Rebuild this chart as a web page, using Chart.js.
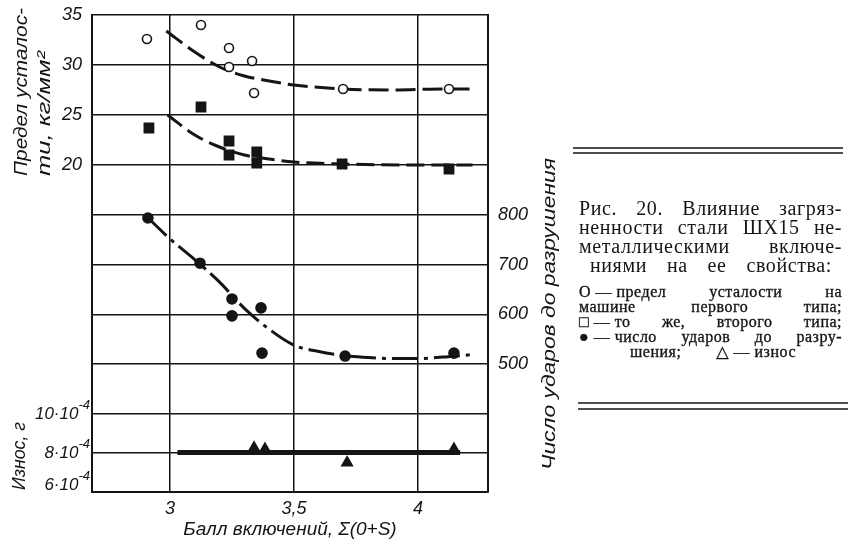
<!DOCTYPE html>
<html>
<head>
<meta charset="utf-8">
<script src="https://cdn.jsdelivr.net/npm/chart.js@4.4.0/dist/chart.umd.min.js"></script>
<style>
  html, body { margin: 0; padding: 0; background: #fff; }
</style>
</head>
<body>
<canvas id="myChart" width="850" height="545"></canvas>
<script>
// балл включений, Σ(O+S)
const xTicks = [3, 3.5, 4];
const fatTicks = [20, 25, 30, 35];
const blowsTicks = [500, 600, 700, 800];
const wearTicks = [6e-4, 8e-4, 10e-4];

// предел усталости, машина первого типа (кружки)
const fat1X = [2.907, 3.125, 3.238, 3.238, 3.331, 3.339, 3.698, 4.125];
const fat1Y = [32.6, 34.0, 31.7, 29.8, 30.4, 27.2, 27.6, 27.6];
// то же, второго типа (квадраты)
const fat2X = [2.915, 3.125, 3.238, 3.238, 3.35, 3.35, 3.694, 4.125];
const fat2Y = [23.7, 25.8, 22.4, 21.0, 21.3, 20.2, 20.1, 19.6];
// число ударов до разрушения
const blowsX = [2.911, 3.121, 3.25, 3.25, 3.367, 3.371, 3.706, 4.145];
const blowsY = [794, 703, 631, 597, 613, 522, 516, 522];
// износ, г
const wearX = [3.339, 3.383, 3.714, 4.145];
const wearY = [8.26e-4, 8.2e-4, 7.5e-4, 8.2e-4];

// сглаживающие кривые
const fat1CurveX = [2.985, 3.1, 3.2, 3.3, 3.4, 3.5, 3.7, 3.9, 4.1, 4.21];
const fat1CurveY = [33.4, 31.3, 29.8, 28.9, 28.4, 28.0, 27.6, 27.5, 27.6, 27.6];
const fat2CurveX = [2.99, 3.1, 3.2, 3.3, 3.4, 3.5, 3.7, 4.0, 4.22];
const fat2CurveY = [25.0, 23.0, 21.8, 21.0, 20.6, 20.3, 20.1, 20.0, 20.0];
const blowsCurveX = [2.91, 3.0, 3.1, 3.2, 3.3, 3.4, 3.5, 3.6, 3.7, 3.8, 3.9, 4.0, 4.1, 4.22];
const blowsCurveY = [795, 752, 710, 665, 612, 570, 538, 525, 517, 513, 511, 511, 514, 519];
const wearLineX = [3.03, 4.17];
const wearLineY = [8.02e-4, 8.02e-4];

const INK = "#151515";
const SANS = "'Liberation Sans', 'DejaVu Sans', sans-serif";
const SERIF = "'Liberation Serif', 'DejaVu Serif', serif";

function pairs(xs, ys) {
  return xs.map(function (x, i) {
    return { x: x, y: ys[i] };
  });
}

function fixTicks(list) {
  return function (scale) {
    scale.ticks = list.map(function (v) {
      return { value: v };
    });
  };
}

// фиксированная ширина оси без запаса под крайние подписи
function fixWidth(w) {
  return function (s) {
    s.width = w;
    s.paddingTop = 0;
    s.paddingBottom = 0;
  };
}

// текст, повернутый на 90°, растянутый на заданную длину
function vText(ctx, text, x, y, len, size) {
  ctx.save();
  ctx.font = "italic " + size + "px " + SANS;
  const w = ctx.measureText(text).width;
  ctx.translate(x, y);
  ctx.rotate(-Math.PI / 2);
  ctx.scale(len / w, 1);
  ctx.textAlign = "left";
  ctx.textBaseline = "middle";
  ctx.fillText(text, 0, 0);
  ctx.restore();
}

// строка, выровненная по ширине
function justify(ctx, text, x0, x1, y, heavy) {
  const words = text.split(" ");
  const widths = words.map(function (t) {
    return ctx.measureText(t).width;
  });
  const total = widths.reduce(function (s, w) {
    return s + w;
  }, 0);
  const gap = words.length > 1 ? (x1 - x0 - total) / (words.length - 1) : 0;
  let x = x0;
  words.forEach(function (t, i) {
    ctx.fillText(t, x, y);
    if (heavy) ctx.strokeText(t, x, y);
    x += widths[i] + gap;
  });
}

function rule(ctx, x0, x1, y) {
  ctx.beginPath();
  ctx.moveTo(x0, y);
  ctx.lineTo(x1, y);
  ctx.stroke();
}

// подписи шкалы износа: 10·10⁻⁴ с поднятым показателем
function wearLabels(chart, ctx) {
  const scale = chart.scales.yWear;
  const right = scale.right - 2;
  ctx.textAlign = "right";
  ctx.textBaseline = "middle";
  wearTicks.forEach(function (v) {
    const y = Math.min(scale.getPixelForValue(v), chart.chartArea.bottom - 7);
    ctx.font = "italic 13px " + SANS;
    const supW = ctx.measureText("-4").width;
    ctx.fillText("-4", right, y - 9);
    ctx.font = "italic 17px " + SANS;
    ctx.fillText(Math.round(v * 1e4) + "·10", right - supW, y);
  });
}

const captionPlugin = {
  id: "caption",
  afterDraw: function (chart) {
    const ctx = chart.ctx;
    ctx.save();
    ctx.fillStyle = INK;
    ctx.strokeStyle = INK;

    wearLabels(chart, ctx);

    vText(ctx, "Предел усталос-", 22, 176, 168, 18);
    vText(ctx, "ти, кг/мм²", 45, 176, 125, 18);
    vText(ctx, "Износ, г", 20, 490, 68, 18);
    vText(ctx, "Число ударов до разрушения", 550, 470, 312, 18);

    ctx.lineWidth = 1.6;
    rule(ctx, 573, 843, 148);
    rule(ctx, 573, 843, 153);
    rule(ctx, 578, 848, 403);
    rule(ctx, 578, 848, 409);

    ctx.textBaseline = "middle";
    ctx.textAlign = "left";
    ctx.lineWidth = 0.35;
    ctx.font = "20px " + SERIF;
    ctx.letterSpacing = "0.6px";
    justify(ctx, "Рис. 20. Влияние загряз-", 579, 842, 210, false);
    justify(ctx, "ненности стали ШХ15 не-", 579, 842, 229, false);
    justify(ctx, "металлическими включе-", 579, 842, 248, false);
    justify(ctx, "ниями на ее свойства:", 590, 832, 267, false);

    ctx.font = "16px " + SERIF;
    ctx.letterSpacing = "0.5px";
    justify(ctx, "О\u00a0—\u00a0предел усталости на", 579, 842, 293, true);
    justify(ctx, "машине первого типа;", 579, 842, 308, true);
    justify(ctx, "□\u00a0—\u00a0то же, второго типа;", 579, 842, 323, true);
    justify(ctx, "●\u00a0—\u00a0число ударов до разру-", 579, 842, 338, true);
    justify(ctx, "шения; △\u00a0—\u00a0износ", 630, 796, 353, true);
    ctx.letterSpacing = "0px";
    ctx.restore();
  },
};

const tickFont = { family: SANS, size: 18, style: "italic" };
const gridStyle = { color: INK, lineWidth: 1.5, drawTicks: false };
const borderStyle = { display: true, color: INK, width: 2 };

function pointSet(xs, ys, axis, style, radius, fill) {
  return {
    data: pairs(xs, ys),
    yAxisID: axis,
    showLine: false,
    pointStyle: style,
    pointRadius: radius,
    pointBackgroundColor: fill,
    pointBorderColor: INK,
    pointBorderWidth: 1.6,
    order: 0,
  };
}

function curveSet(xs, ys, axis, dash, width) {
  return {
    data: pairs(xs, ys),
    yAxisID: axis,
    showLine: true,
    pointRadius: 0,
    borderColor: INK,
    borderWidth: width,
    borderDash: dash,
    tension: 0.4,
    cubicInterpolationMode: "monotone",
    order: 1,
  };
}

const ctx = document.getElementById("myChart").getContext("2d");
const myChart = new Chart(ctx, {
  type: "scatter",
  data: {
    datasets: [
      pointSet(fat1X, fat1Y, "yFat", "circle", 4.5, "#fff"),
      pointSet(fat2X, fat2Y, "yFat", "rect", 6.5, INK),
      pointSet(blowsX, blowsY, "yBlows", "circle", 5, INK),
      pointSet(wearX, wearY, "yWear", "triangle", 6, INK),
      curveSet(fat1CurveX, fat1CurveY, "yFat", [20, 7], 3),
      curveSet(fat2CurveX, fat2CurveY, "yFat", [18, 7], 3),
      curveSet(blowsCurveX, blowsCurveY, "yBlows", [26, 6, 4, 6], 3),
      curveSet(wearLineX, wearLineY, "yWear", [], 5),
    ],
  },
  options: {
    responsive: false,
    animation: false,
    devicePixelRatio: 1,
    layout: { padding: { top: 15, left: 0, right: 320, bottom: 0 } },
    plugins: {
      legend: { display: false },
      tooltip: { enabled: false },
    },
    scales: {
      x: {
        type: "linear",
        min: 2.6855,
        max: 4.2823,
        afterBuildTicks: fixTicks(xTicks),
        afterFit: function (s) {
          s.height = 53;
        },
        grid: gridStyle,
        border: borderStyle,
        ticks: {
          color: INK,
          font: tickFont,
          padding: 6,
          callback: function (v) {
            return String(v).replace(".", ",");
          },
        },
        title: {
          display: true,
          text: "Балл включений, Σ(0+S)",
          color: INK,
          font: { family: SANS, size: 19, style: "italic" },
          padding: { top: 0, bottom: 4 },
        },
      },
      yFat: {
        type: "linear",
        position: "left",
        weight: 1,
        min: -12.7,
        max: 35,
        afterBuildTicks: fixTicks(fatTicks),
        afterFit: fixWidth(92),
        grid: gridStyle,
        border: borderStyle,
        ticks: { color: INK, font: tickFont, padding: 10 },
      },
      yWear: {
        type: "linear",
        position: "left",
        weight: 0,
        min: 6e-4,
        max: 30.46e-4,
        afterBuildTicks: fixTicks(wearTicks),
        afterFit: fixWidth(0),
        grid: gridStyle,
        border: borderStyle,
        ticks: { display: false },
      },
      yBlows: {
        type: "linear",
        position: "right",
        min: 242.3,
        max: 1202.7,
        afterBuildTicks: fixTicks(blowsTicks),
        afterFit: fixWidth(42),
        grid: gridStyle,
        border: borderStyle,
        ticks: { color: INK, font: tickFont, padding: 10 },
      },
    },
  },
  plugins: [captionPlugin],
});
</script>
</body>
</html>
